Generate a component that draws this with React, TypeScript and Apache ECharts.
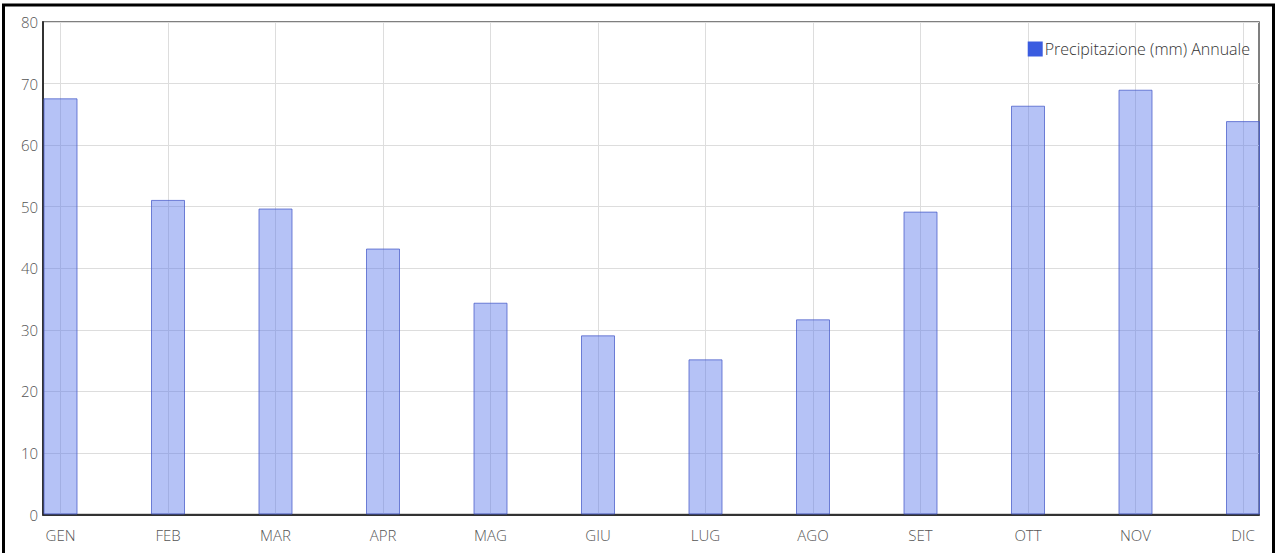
import React, { useEffect, useRef } from "react";
import * as echarts from "echarts";

const months = ["GEN", "FEB", "MAR", "APR", "MAG", "GIU", "LUG", "AGO", "SET", "OTT", "NOV", "DIC"];
const precipitation = [67.6, 51.1, 49.7, 43.2, 34.4, 29.1, 25.2, 31.7, 49.2, 66.4, 69.0, 63.9];
const seriesName = "Precipitazione (mm) Annuale";
const yMin = 0;
const yMax = 80;
const yStep = 10;

export default function App() {
  const ref = useRef<HTMLDivElement>(null);
  useEffect(() => {
    if (!ref.current) return;
    const chart = echarts.init(ref.current, undefined, { renderer: "svg" });
    const font = "'Open Sans', 'Noto Sans', sans-serif";
    chart.setOption({
      animation: false,
      backgroundColor: "#ffffff",
      textStyle: { fontFamily: font },
      graphic: [
        {
          type: "rect",
          shape: { x: 3.5, y: 5, width: 1270, height: 570 },
          style: { fill: "none", stroke: "#000000", lineWidth: 3 },
          silent: true,
          z: 100,
        },
      ],
      legend: {
        data: [{ name: seriesName, itemStyle: { color: "#3a5ce0", borderWidth: 0 } }],
        right: 22,
        top: 36,
        icon: "rect",
        itemWidth: 15,
        itemHeight: 15,
        itemGap: 4,
        textStyle: { fontFamily: font, fontSize: 16, fontWeight: 300, color: "#333333", padding: [0, 0, 0, -3] },
      },
      grid: [
        { left: 43, right: 18, top: 22, bottom: 38.5, show: true, borderColor: "#555555", borderWidth: 1.5, backgroundColor: "transparent" },
        { left: 60.5, right: 34, top: 22, bottom: 38.5 },
      ],
      xAxis: [
        {
          gridIndex: 0,
          type: "value",
          min: 0,
          max: 1,
          axisLabel: { show: false },
          axisTick: { show: false },
          splitLine: { show: false },
          axisLine: { show: true, lineStyle: { color: "#333333", width: 2 } },
        },
        {
          gridIndex: 1,
          type: "category",
          data: months,
          boundaryGap: false,
          axisLine: { show: false },
          axisTick: { show: false },
          axisLabel: { color: "#555555", fontSize: 15, fontWeight: 300, margin: 13, fontFamily: font },
          splitLine: { show: true, lineStyle: { color: "#dddddd", width: 1 } },
        },
      ],
      yAxis: [
        {
          gridIndex: 0,
          type: "value",
          min: yMin,
          max: yMax,
          interval: yStep,
          axisLine: { show: true, lineStyle: { color: "#333333", width: 2 } },
          axisTick: { show: false },
          axisLabel: { color: "#555555", fontSize: 15, fontWeight: 300, margin: 5, fontFamily: font },
          splitLine: { show: true, lineStyle: { color: "#dddddd", width: 1 } },
        },
        {
          gridIndex: 1,
          type: "value",
          min: yMin,
          max: yMax,
          show: false,
          splitLine: { show: false },
        },
      ],
      series: [
        {
          name: seriesName,
          type: "bar",
          xAxisIndex: 1,
          yAxisIndex: 1,
          data: precipitation,
          barWidth: 34,
          clip: false,
          itemStyle: {
            color: "rgba(90, 120, 235, 0.45)",
            borderColor: "rgba(70, 90, 200, 0.75)",
            borderWidth: 1,
          },
          z: 3,
        },
      ],
    });
    return () => chart.dispose();
  }, []);
  return (
    <div
      ref={ref}
      style={{ position: "fixed", left: 0, top: 0, width: 1277, height: 553 }}
    />
  );
}
